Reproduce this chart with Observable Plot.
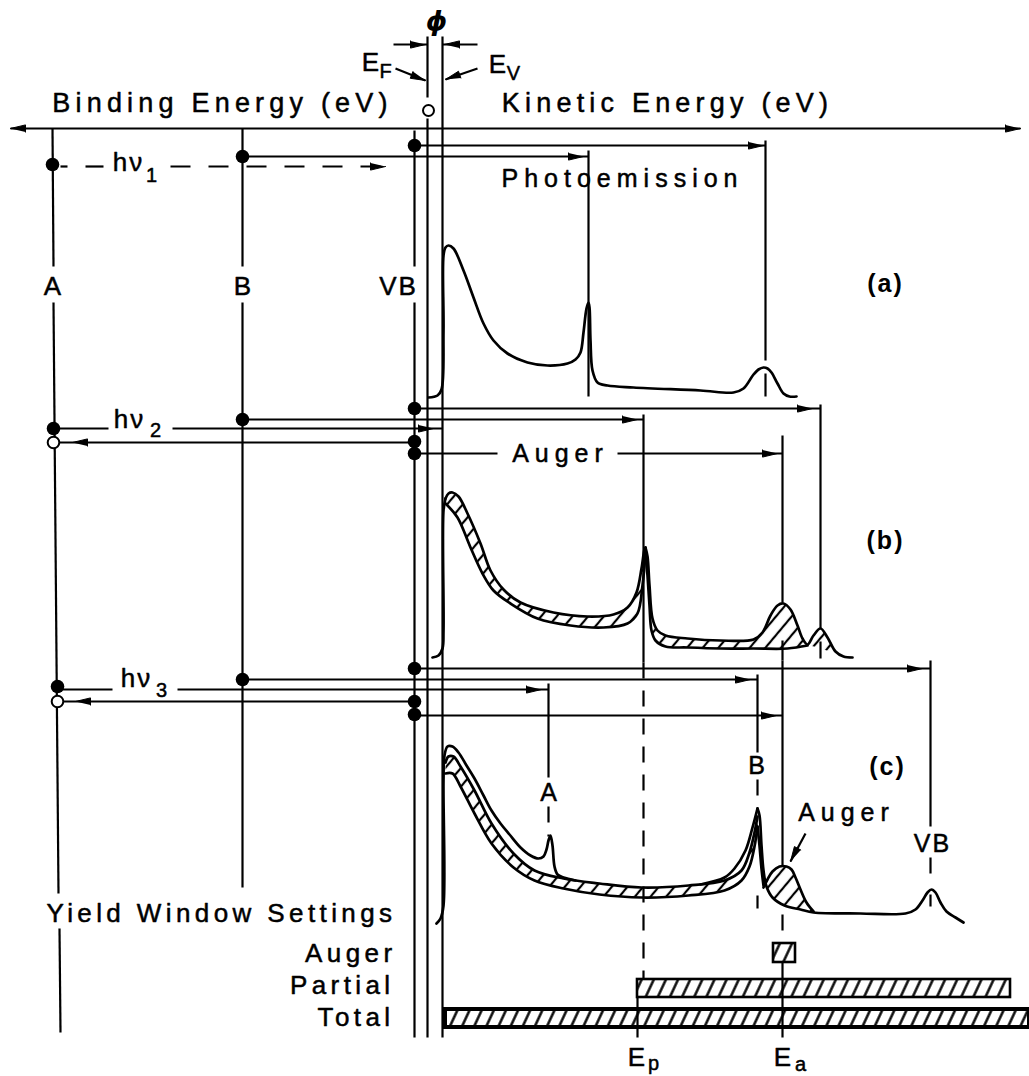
<!DOCTYPE html>
<html>
<head>
<meta charset="utf-8">
<script src="https://cdn.jsdelivr.net/npm/d3@7"></script>
<script src="https://cdn.jsdelivr.net/npm/@observablehq/plot@0.6"></script>
<style>
  html, body { margin: 0; padding: 0; background: #fff; }
</style>
</head>
<body>
<div id="chart"></div>
<script>
const W = 1029, H = 1076;

// ---------- data (diagram coordinates) ----------
const energyAxis = [{x1: 10, y1: 128, x2: 1020, y2: 128}];

const levelLines = [
  {x1: 52, y1: 128, x2: 53, y2: 266}, {x1: 53, y1: 302, x2: 58, y2: 893}, {x1: 59, y1: 928, x2: 60, y2: 1032},
  {x1: 242, y1: 128, x2: 242, y2: 266}, {x1: 242, y1: 302, x2: 242, y2: 887},
  {x1: 414, y1: 130, x2: 414, y2: 266}, {x1: 414, y1: 302, x2: 414, y2: 1037},
  {x1: 427, y1: 36, x2: 427, y2: 97}, {x1: 427, y1: 118, x2: 427, y2: 1037},
  {x1: 442, y1: 36, x2: 442, y2: 1037}
];

const transitions = [
  {x1: 414, y1: 145, x2: 765, y2: 145}, {x1: 242, y1: 156, x2: 588, y2: 156},
  {x1: 60, y1: 166, x2: 67, y2: 166}, {x1: 85, y1: 166, x2: 103, y2: 166},
  {x1: 414, y1: 408, x2: 820, y2: 408}, {x1: 242, y1: 419, x2: 643, y2: 419},
  {x1: 53, y1: 428, x2: 108, y2: 428}, {x1: 172, y1: 428, x2: 442, y2: 428},
  {x1: 57, y1: 442, x2: 414, y2: 442},
  {x1: 414, y1: 453, x2: 497, y2: 453}, {x1: 617, y1: 453, x2: 782, y2: 453},
  {x1: 414, y1: 668, x2: 930, y2: 668}, {x1: 242, y1: 679, x2: 757, y2: 679},
  {x1: 57, y1: 689, x2: 112, y2: 689}, {x1: 177, y1: 689, x2: 548, y2: 689},
  {x1: 61, y1: 701, x2: 414, y2: 701},
  {x1: 414, y1: 715, x2: 782, y2: 715},
  {x1: 393, y1: 44, x2: 427, y2: 44}, {x1: 442, y1: 44, x2: 477, y2: 44},
  {x1: 395, y1: 68, x2: 425, y2: 80}, {x1: 477, y1: 68, x2: 445, y2: 79},
  {x1: 805, y1: 833, x2: 790, y2: 861}
];

const peakMarkers = [
  {x1: 765, y1: 140, x2: 765, y2: 360}, {x1: 765, y1: 373, x2: 765, y2: 396},
  {x1: 588, y1: 150, x2: 588, y2: 396},
  {x1: 820, y1: 404, x2: 820, y2: 628}, {x1: 820, y1: 641, x2: 820, y2: 658},
  {x1: 643, y1: 414, x2: 643, y2: 662},
  {x1: 782, y1: 435, x2: 782, y2: 602}, {x1: 782, y1: 640, x2: 782, y2: 660},
  {x1: 930, y1: 660, x2: 930, y2: 826}, {x1: 930, y1: 894, x2: 930, y2: 906},
  {x1: 757, y1: 674, x2: 757, y2: 752}, {x1: 757, y1: 895, x2: 757, y2: 908},
  {x1: 548, y1: 683, x2: 548, y2: 777},
  {x1: 782, y1: 660, x2: 782, y2: 866}, {x1: 782, y1: 962, x2: 782, y2: 1037},
  {x1: 637, y1: 997, x2: 637, y2: 1037}
];

const photonDashes = [{x1: 170, y1: 166, x2: 380, y2: 166}];
const guideDashes = [
  {x1: 930, y1: 857, x2: 930, y2: 882}, {x1: 757, y1: 779, x2: 757, y2: 806},
  {x1: 548, y1: 806, x2: 548, y2: 836}, {x1: 782, y1: 914, x2: 782, y2: 941},
  {x1: 643, y1: 662, x2: 643, y2: 979}
];

const arrowTips = [
  {x: 10, y: 128, dx: -1, dy: 0}, {x: 1020, y: 128, dx: 1, dy: 0},
  {x: 425, y: 44, dx: 1, dy: 0}, {x: 444, y: 44, dx: -1, dy: 0},
  {x: 425, y: 80, dx: 30, dy: 12}, {x: 445, y: 79, dx: -32, dy: 11},
  {x: 763, y: 145, dx: 1, dy: 0}, {x: 583, y: 156, dx: 1, dy: 0}, {x: 385, y: 166, dx: 1, dy: 0},
  {x: 812, y: 408, dx: 1, dy: 0}, {x: 637, y: 419, dx: 1, dy: 0}, {x: 433, y: 428, dx: 1, dy: 0},
  {x: 72, y: 442, dx: -1, dy: 0}, {x: 777, y: 453, dx: 1, dy: 0},
  {x: 922, y: 668, dx: 1, dy: 0}, {x: 750, y: 679, dx: 1, dy: 0}, {x: 541, y: 689, dx: 1, dy: 0},
  {x: 75, y: 701, dx: -1, dy: 0}, {x: 776, y: 715, dx: 1, dy: 0},
  {x: 790, y: 861, dx: -15, dy: 28}
];

const filledLevels = [
  {x: 52, y: 164}, {x: 242, y: 156}, {x: 414, y: 145},
  {x: 53, y: 428}, {x: 242, y: 419}, {x: 414, y: 408}, {x: 414, y: 441}, {x: 414, y: 453},
  {x: 57, y: 686}, {x: 242, y: 679}, {x: 414, y: 668}, {x: 414, y: 701}, {x: 414, y: 714}
];
const emptyLevels = [{x: 53, y: 442}, {x: 57, y: 701}];
const fermiMark = [{x: 428, y: 110}];

// spectra
const specA = [[428,397],[437,395],[441,389],[443,330],[443,255],[445,247],[448,245],[453,248],[463,270],[473,297],[483,323],[493,340],[507,353],[527,362],[547,365],[567,363],[575,359],[580,352],[583,332],[586,308],[588,302],[589,307],[590,340],[592,370],[597,382],[607,385],[633,387],[700,390],[733,392],[743,388],[753,374],[758,369],[763,367],[767,368],[771,372],[777,383],[783,393],[789,396],[796,396]];

const specBEdge = [[432,657],[438,655],[442,648],[443,630],[443,510],[445,498]];
const specBUpper = [[445,498],[448,493],[452,492],[458,496],[467,513],[480,543],[490,570],[503,589],[520,602],[553,612],[587,616],[613,614],[627,607],[636,592],[641,568],[644,549],[645,547]];
const specBUpperR = [[645,547],[647,556],[649,585],[652,618],[657,630],[665,635],[687,638],[720,640],[753,639],[762,632],[770,615],[777,605],[783,603],[790,609],[797,625],[802,638],[807,644],[813,635],[820,628],[827,637],[835,651],[843,656],[852,657]];
const specBLower = [[445,503],[457,517],[470,547],[482,573],[493,590],[510,603],[537,618],[570,625],[603,627],[627,623],[637,613],[642,585],[645,552]];
const specBLowerR = [[645,552],[647,575],[649,605],[651,630],[655,640],[665,646],[687,647],[720,648],[753,648],[787,648],[807,645]];

const specCOuter = [[436,923],[440,918],[443,905],[443,780],[444,755],[447,746],[452,746],[458,752],[466,765],[474,778],[483,795],[491,810],[500,823],[509,834],[520,847],[530,855],[538,858],[543,856],[546,849],[548,840],[550,835],[552,845],[554,866],[557,874],[563,877],[575,880]];
const specCUpper = [[445,762],[448,756],[453,756],[460,766],[474,790],[491,823],[513,853],[534,870],[563,878],[599,883],[641,887],[688,885],[724,880],[741,870],[749,852],[754,832],[757,816]];
const specCLower = [[445,773],[452,773],[460,786],[474,813],[491,843],[513,867],[534,880],[563,888],[599,894],[641,897],[688,895],[724,890],[741,880],[749,866],[754,846],[757,826]];
const specCOuterB = [[700,884],[724,877],[734,868],[745,850],[752,827],[757,808]];
const specCTail = [[757,808],[759,815],[761,845],[763,870],[766,886],[772,897],[784,905],[800,909],[813,912],[860,913],[905,913],[915,909],[922,900],[927,892],[931,889],[935,892],[940,902],[946,911],[955,917],[963,922]];
const specCInner = [[757,826],[759,845],[761,868],[763,885]];
const specCAuger = [[763,887],[767,879],[772,871],[779,866],[786,866],[791,869],[795,877],[800,889],[806,902],[813,911]];
const specCAugerBase = [[800,909],[784,905],[772,897],[766,888]];

// yield windows
const yieldWindows = [
  {name: "Auger", x1: 773, x2: 795, y1: 943, y2: 962},
  {name: "Partial", x1: 637, x2: 1010, y1: 979, y2: 997},
  {name: "Total", x1: 445, x2: 1029, y1: 1009, y2: 1027}
];

// text
const axisTitles = [{text: "Binding Energy (eV)", x: 222, y: 103}, {text: "Kinetic Energy (eV)", x: 667, y: 103}];
const levelNames = [{text: "A", x: 53, y: 286}, {text: "B", x: 243, y: 286}, {text: "VB", x: 398, y: 286}];
const peakNames = [{text: "A", x: 549, y: 792}, {text: "B", x: 757, y: 765}, {text: "VB", x: 932, y: 843}];
const panelTags = [{text: "(a)", x: 885, y: 283}, {text: "(b)", x: 885, y: 540}, {text: "(c)", x: 887, y: 766}];
const processNames = [{text: "Photoemission", x: 622, y: 178}, {text: "Auger", x: 560, y: 453}, {text: "Auger", x: 846, y: 812}];
const windowNames = [{text: "Yield Window Settings", x: 396, y: 913}, {text: "Auger", x: 396, y: 953}, {text: "Partial", x: 394, y: 985}, {text: "Total", x: 394, y: 1017}];
const symbols = [{text: "hν", x: 128, y: 162}, {text: "hν", x: 129, y: 419}, {text: "hν", x: 136, y: 678},
  {text: "E", x: 371, y: 62}, {text: "E", x: 498, y: 64}, {text: "E", x: 637, y: 1057}, {text: "E", x: 783, y: 1057}];
const subscripts = [{text: "1", x: 151, y: 175}, {text: "2", x: 155, y: 430}, {text: "3", x: 161, y: 690},
  {text: "F", x: 385, y: 71}, {text: "V", x: 513, y: 73}, {text: "p", x: 653, y: 1063}, {text: "a", x: 800, y: 1064}];
const workFunction = [{text: "ϕ", x: 436, y: 21}];

// ---------- helpers (geometry derived from the data) ----------
const rows = (pts, id) => pts.map(([x, y]) => ({x, y, id}));
const headRows = arrowTips.flatMap((a, i) => {
  const n = Math.hypot(a.dx, a.dy), ux = a.dx / n, uy = a.dy / n;
  const L = 15, w = 3.6, bx = a.x - L * ux, by = a.y - L * uy;
  return [
    {x: a.x, y: a.y, id: i},
    {x: bx - w * uy, y: by + w * ux, id: i},
    {x: bx + w * uy, y: by - w * ux, id: i}
  ];
});
const traceRows = [
  ...rows(specA, "a"), ...rows(specBEdge, "bE"), ...rows(specBUpper, "bU"), ...rows(specBUpperR, "bUR"),
  ...rows(specBLower, "bL"), ...rows(specBLowerR, "bLR"),
  ...rows(specCOuter, "cO"), ...rows(specCUpper, "cU"), ...rows(specCLower, "cL"), ...rows(specCOuterB, "cOB"),
  ...rows(specCTail, "cT"), ...rows(specCInner, "cI"), ...rows(specCAuger, "cA")
];
const hatchRows = [
  ...rows([...specBUpper, ...specBLower.slice().reverse()], "hb1"),
  ...rows([...specBUpperR.slice(0, 21), ...specBLowerR.slice().reverse()], "hb2"),
  ...rows([...specCUpper, ...specCLower.slice().reverse()], "hc1"),
  ...rows([...specCAuger, ...specCAugerBase], "hc2")
];

const link = (data, extra = {}) => Plot.link(data, {x1: "x1", y1: "y1", x2: "x2", y2: "y2", stroke: "black", strokeWidth: 2.2, strokeLinecap: "butt", ...extra});
const font = "Liberation Sans, Arial, Helvetica, sans-serif";
const txt = (data, extra = {}) => Plot.text(data, {x: "x", y: "y", text: "text", fill: "black", stroke: "black", strokeWidth: 0.5, fontFamily: font, ...extra});

const svg = Plot.plot({
  width: W, height: H, margin: 0,
  x: {domain: [0, W], axis: null},
  y: {domain: [0, H], reverse: true, axis: null},
  style: {background: "white", color: "black", fontFamily: font},
  marks: [
    link(energyAxis),
    link(levelLines),
    link(peakMarkers),
    link(transitions),
    link(photonDashes, {strokeDasharray: "20,18"}),
    link(guideDashes, {strokeDasharray: "16,12"}),
    Plot.line(hatchRows, {x: "x", y: "y", z: "id", curve: "catmull-rom", fill: "url(#hatchBand)", stroke: "none"}),
    Plot.line(traceRows, {x: "x", y: "y", z: "id", curve: "catmull-rom", stroke: "black", strokeWidth: 2.7}),
    Plot.rect(yieldWindows, {x1: "x1", x2: "x2", y1: "y1", y2: "y2", fill: "url(#hatchBar)", stroke: "black",
      strokeWidth: d => d.name === "Total" ? 4 : 2.6}),
    Plot.line(headRows, {x: "x", y: "y", z: "id", fill: "black", stroke: "black", strokeWidth: 1}),
    Plot.dot(filledLevels, {x: "x", y: "y", r: 6.8, fill: "black", stroke: "none"}),
    Plot.dot(emptyLevels, {x: "x", y: "y", r: 5.8, fill: "white", stroke: "black", strokeWidth: 2}),
    Plot.dot(fermiMark, {x: "x", y: "y", r: 5.5, fill: "white", stroke: "black", strokeWidth: 2}),
    txt(axisTitles, {fontSize: 27}),
    txt(levelNames, {fontSize: 26}),
    txt(peakNames, {fontSize: 25}),
    txt(panelTags, {fontSize: 25, fontWeight: "bold", strokeWidth: 0}),
    txt(processNames, {fontSize: 25}),
    txt(windowNames, {fontSize: 26, textAnchor: "end"}),
    txt(symbols, {fontSize: 26}),
    txt(subscripts, {fontSize: 20}),
    txt(workFunction, {fontSize: 27, fontWeight: "bold", fontStyle: "italic", strokeWidth: 0, fontFamily: "DejaVu Sans, sans-serif"})
  ]
});

d3.select(svg).insert("defs", ":first-child").html(`
  <pattern id="hatchBand" patternUnits="userSpaceOnUse" width="12" height="12" patternTransform="rotate(40)">
    <line x1="6" y1="0" x2="6" y2="12" stroke="black" stroke-width="2.2"/>
  </pattern>
  <pattern id="hatchBar" patternUnits="userSpaceOnUse" width="11" height="11" patternTransform="rotate(25)">
    <line x1="5.5" y1="0" x2="5.5" y2="11" stroke="black" stroke-width="2.4"/>
  </pattern>`);

// tracking of each text group, in mark order
const tracking = ["5.2px", "2px", "2px", "2px", "6px", "4.4px", "2px", "0px", "0px"];
d3.select(svg).selectAll("g[aria-label='text']").nodes()
  .forEach((g, i) => d3.select(g).style("letter-spacing", tracking[i] || "0px"));

document.getElementById("chart").append(svg);
</script>
</body>
</html>
